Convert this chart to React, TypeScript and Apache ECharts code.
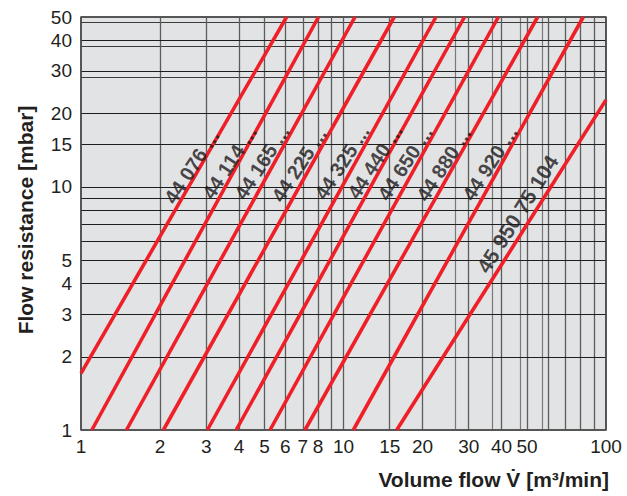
import React, { useEffect, useRef } from "react";
import * as echarts from "echarts";

const FONT = '"Liberation Sans", Arial, Helvetica, sans-serif';
const TEXT_COLOR = "#231f20";
const RED = "#ee1f27";

// Axis ranges (log-log)
const X_MIN = 1;
const X_MAX = 100;
const Y_MIN = 1;
const Y_MAX = 50;

// Grid lines and tick labels
const xGridValues = [2, 3, 4, 5, 6, 7, 8, 9, 10, 15, 20, 30, 40, 50, 60, 70, 80, 90];
const xTickLabels = [1, 2, 3, 4, 5, 6, 7, 8, 10, 15, 20, 30, 40, 50, 100];
const xSecondaryGrid = [26.6, 37, 47.3, 57];
const yGridValues = [2, 3, 4, 5, 6, 7, 8, 9, 10, 15, 20, 30, 40];
const yTickLabels = [1, 2, 3, 4, 5, 10, 15, 20, 30, 40, 50];
const ySecondaryGrid = [28.3, 37.9, 47.4];

// Filter types (one red characteristic line each)
const seriesNames = [
  "44 076 ...",
  "44 114 ...",
  "44 165 ...",
  "44 225 ...",
  "44 325 ...",
  "44 440 ...",
  "44 650 ...",
  "44 880 ...",
  "44 920 ...",
  "45 950 75 104",
];

// Start and end points [volume flow, flow resistance] of each line
const lineStart = [
  [1, 1.71],
  [1.1, 1],
  [1.49, 1],
  [2.06, 1],
  [3.03, 1],
  [3.9, 1],
  [5.25, 1],
  [7.13, 1],
  [10.9, 1],
  [15.95, 1],
];
const lineEnd = [
  [6.07, 50],
  [8.03, 50],
  [11.06, 50],
  [15.6, 50],
  [22.5, 50],
  [28.9, 50],
  [38.9, 50],
  [54.9, 50],
  [81.9, 50],
  [100, 22.8],
];

// Where each line's label text is centred [volume flow, flow resistance]
const labelAnchor = [
  [2.64, 12.1],
  [3.68, 12.6],
  [4.89, 12.6],
  [6.77, 12.3],
  [9.87, 12.6],
  [13.18, 12.7],
  [17.15, 12.5],
  [24.1, 12.4],
  [36.1, 12.5],
  [46.0, 7.74],
];

const tickLabelStyle = {
  fontSize: 19,
  fontFamily: FONT,
  color: TEXT_COLOR,
};

function vLine(v: number, color: string, width: number, text: string | null) {
  return [
    {
      coord: [v, Y_MIN],
      lineStyle: { color, width, type: "solid" },
      label: text
        ? { show: true, formatter: text, position: "start", distance: 7, ...tickLabelStyle }
        : { show: false },
    },
    { coord: [v, Y_MAX] },
  ];
}

function hLine(v: number, color: string, width: number, text: string | null) {
  return [
    {
      coord: [X_MIN, v],
      lineStyle: { color, width, type: "solid" },
      label: text
        ? { show: true, formatter: text, position: "start", distance: 9, ...tickLabelStyle }
        : { show: false },
    },
    { coord: [X_MAX, v] },
  ];
}

export default function App() {
  const ref = useRef<HTMLDivElement>(null);

  useEffect(() => {
    if (!ref.current) return;
    const chart = echarts.init(ref.current, null, { renderer: "svg" });

    const gridLines: any[] = [];
    const BORDER = "#4d4d4d";
    xSecondaryGrid.forEach((v) => gridLines.push(vLine(v, "#7a7a7a", 1.2, null)));
    ySecondaryGrid.forEach((v) => gridLines.push(hLine(v, "#3a3a3a", 1.1, null)));
    xGridValues.forEach((v) =>
      gridLines.push(vLine(v, "#5c5c5c", 1.3, xTickLabels.includes(v) ? String(v) : null))
    );
    yGridValues.forEach((v) =>
      gridLines.push(hLine(v, "#1e1e1e", 1.2, yTickLabels.includes(v) ? String(v) : null))
    );
    gridLines.push(vLine(X_MIN, BORDER, 1.5, String(X_MIN)));
    gridLines.push(vLine(X_MAX, BORDER, 1.5, String(X_MAX)));
    gridLines.push(hLine(Y_MIN, BORDER, 1.5, String(Y_MIN)));
    gridLines.push(hLine(Y_MAX, BORDER, 1.5, String(Y_MAX)));

    const lineSeries = seriesNames.map((name, i) => ({
      type: "line",
      name,
      data: [lineStart[i], lineEnd[i]],
      symbol: "none",
      smooth: false,
      silent: true,
      z: 5,
      lineStyle: { color: RED, width: 3.6 },
    }));

    const lastIdx = seriesNames.length - 1;

    const option: any = {
      animation: false,
      backgroundColor: "#ffffff",
      grid: {
        left: 81,
        right: 21,
        top: 17,
        bottom: 66,
        show: true,
        backgroundColor: "#e2e3e5",
        borderColor: BORDER,
        borderWidth: 1.5,
        outerBoundsMode: "none",
        containLabel: false,
      },
      xAxis: {
        type: "log",
        logBase: 10,
        min: X_MIN,
        max: X_MAX,
        axisLine: { show: false },
        axisTick: { show: false },
        axisLabel: { show: false },
        splitLine: { show: false },
      },
      yAxis: {
        type: "log",
        logBase: 10,
        min: Y_MIN,
        max: Y_MAX,
        axisLine: { show: false },
        axisTick: { show: false },
        axisLabel: { show: false },
        splitLine: { show: false },
      },
      series: [
        {
          type: "scatter",
          name: "grid",
          data: [[X_MIN, Y_MIN]],
          symbolSize: 0,
          silent: true,
          z: 1,
          itemStyle: { color: "rgba(0,0,0,0)" },
          markLine: {
            silent: true,
            z: 1,
            symbol: ["none", "none"],
            animation: false,
            data: gridLines,
          },
        },
        ...lineSeries,
        {
          type: "scatter",
          name: "labels",
          silent: true,
          z: 6,
          symbol: "circle",
          symbolSize: 1,
          itemStyle: { color: "rgba(0,0,0,0)" },
          data: seriesNames.map((name, i) =>
            i === lastIdx
              ? { name, value: labelAnchor[i], label: { fontSize: 21, rotate: 58 } }
              : { name, value: labelAnchor[i] }
          ),
          label: {
            show: true,
            position: "inside",
            formatter: "{b}",
            rotate: 57,
            align: "center",
            verticalAlign: "middle",
            fontSize: 20,
            fontWeight: "bold",
            fontFamily: FONT,
            color: "#1c1a1b",
          },
        },
      ],
      graphic: [
        {
          type: "text",
          x: 609,
          y: 479,
          silent: true,
          style: {
            text: "Volume flow V\u0307 [m\u00b3/min]",
            font: `bold 21px ${FONT}`,
            fill: TEXT_COLOR,
            align: "right",
            verticalAlign: "middle",
          },
        },
        {
          type: "text",
          x: 25,
          y: 220,
          rotation: Math.PI / 2,
          silent: true,
          style: {
            text: "Flow resistance [mbar]",
            font: `bold 21px ${FONT}`,
            fill: TEXT_COLOR,
            align: "center",
            verticalAlign: "middle",
          },
        },
      ],
    };

    chart.setOption(option);
    return () => chart.dispose();
  }, []);

  return (
    <div
      ref={ref}
      style={{ position: "fixed", left: 0, top: 0, width: 627, height: 496 }}
    />
  );
}
